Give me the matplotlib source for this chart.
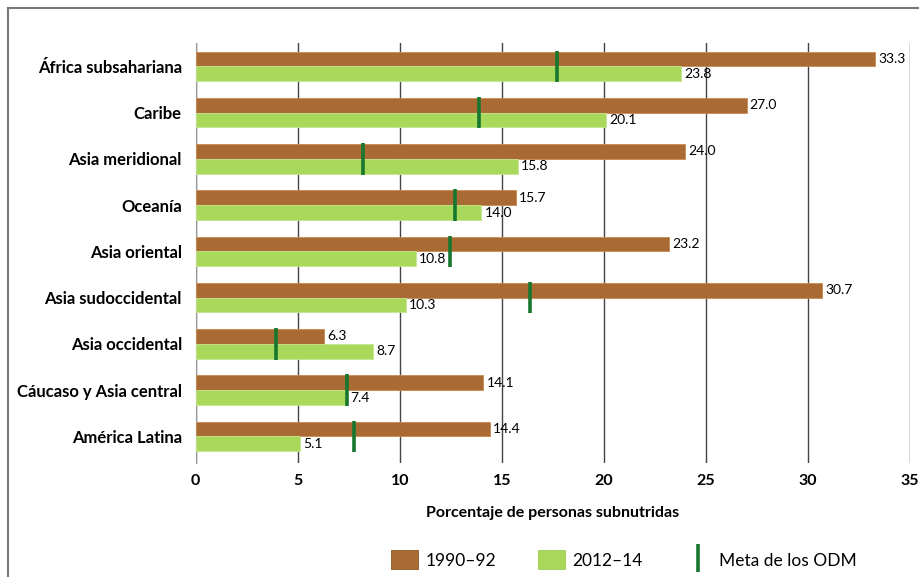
import matplotlib
matplotlib.use('Agg')
import matplotlib.pyplot as plt
from matplotlib.patches import Patch
from matplotlib.lines import Line2D
import numpy as np

plt.rcParams['font.family'] = ['Lato', 'DejaVu Sans']

# ── Data ──────────────────────────────────────────────────────────────────────
regions = ['África subsahariana', 'Caribe', 'Asia meridional', 'Oceanía',
           'Asia oriental', 'Asia sudoccidental', 'Asia occidental',
           'Cáucaso y Asia central', 'América Latina']
val_1990 = [33.3, 27.0, 24.0, 15.7, 23.2, 30.7, 6.3, 14.1, 14.4]
val_2012 = [23.8, 20.1, 15.8, 14.0, 10.8, 10.3, 8.7, 7.4, 5.1]
meta_odm = [17.7, 13.9, 8.2, 12.7, 12.45, 16.4, 3.95, 7.4, 7.75]
xticks = [0, 5, 10, 15, 20, 25, 30, 35]

c_old = '#A96B33'
c_new = '#A9D95B'
c_meta = '#17772E'

fig = plt.figure(figsize=(9.19, 5.77), dpi=100)
ax = fig.add_axes([0.213, 0.198, 0.777, 0.727])

y = np.arange(len(regions))
h = 0.32
ax.barh(y - h / 2, val_1990, height=h, color=c_old, edgecolor='#C98A50', lw=0.6, zorder=3)
ax.barh(y + h / 2, val_2012, height=h, color=c_new, edgecolor='#C5E68F', lw=0.6, zorder=3)
ax.vlines(meta_odm, y - h - 0.02, y + h + 0.02, color=c_meta, lw=2.6, zorder=4)

for yi, v in zip(y, val_1990):
    ax.text(v + 0.15, yi - h / 2, f'{v:.1f}', va='center', ha='left', fontsize=10, zorder=5)
for yi, v in zip(y, val_2012):
    ax.text(v + 0.15, yi + h / 2, f'{v:.1f}', va='center', ha='left', fontsize=10, zorder=5)

ax.set_xlim(0, 35)
ax.set_ylim(8.57, -0.5)
ax.set_xticks(xticks)
ax.set_xticklabels([str(t) for t in xticks], fontweight='bold', fontsize=11.5)
ax.set_yticks(y)
ax.set_yticklabels(regions, fontweight='bold', fontsize=12)
ax.tick_params(axis='y', length=0, pad=10)
ax.tick_params(axis='x', length=0, pad=8)
ax.grid(axis='x', color='#444444', lw=1, zorder=0)
for s in ['top', 'right', 'bottom']:
    ax.spines[s].set_visible(False)
ax.spines['left'].set_color('#999999')
ax.set_xlabel('Porcentaje de personas subnutridas', fontweight='bold', fontsize=11.5, labelpad=13)

handles = [Patch(facecolor=c_old, edgecolor='#8a5526', lw=0.6),
           Patch(facecolor=c_new, edgecolor='#9cc94f', lw=0.6),
           Line2D([], [], color=c_meta, marker='|', markersize=20, markeredgewidth=2.6, ls='none')]
fig.legend(handles, ['1990–92', '2012–14', 'Meta de los ODM'], loc='center left',
           bbox_to_anchor=(0.408, 0.03), ncol=3, frameon=False, fontsize=12.5,
           handlelength=1.6, handleheight=1.3, columnspacing=2.4, handletextpad=0.4)

# frame around the figure (left and top visible)
fig.add_artist(Line2D([0.009, 0.009], [0.0, 0.986], transform=fig.transFigure, color='#777777', lw=1.5))
fig.add_artist(Line2D([0.009, 1.0], [0.986, 0.986], transform=fig.transFigure, color='#777777', lw=1.5))

fig.savefig('out.png', dpi=100)
